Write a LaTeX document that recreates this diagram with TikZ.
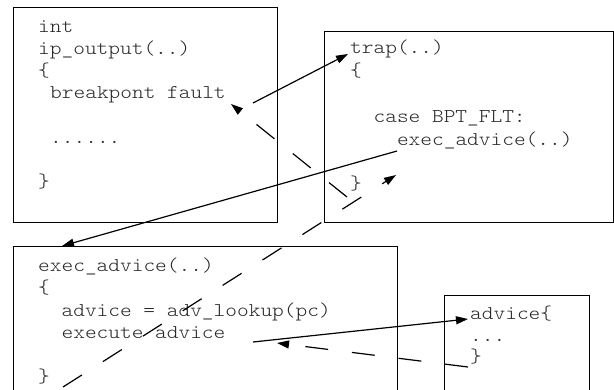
\documentclass[tikz,border=0pt]{standalone}
\usepackage{fontspec}
\newfontfamily\codefont[Extension=.otf,FakeStretch=1.143]{lmmonolt10-regular}
\usetikzlibrary{arrows.meta}
\tikzset{
  codebox/.style={draw=black, line width=1.3pt, rectangle, anchor=north west, inner sep=0pt},
  code/.style={anchor=base west, inner sep=0pt, text=black!85, font=\codefont\fontsize{19.5}{22}\selectfont},
  solidarrow/.style={draw=black, line width=1.2pt, -{Triangle[length=12pt,width=8pt]}},
  dashedarrow/.style={solidarrow, dash pattern=on 23pt off 24pt},
}
\begin{document}
\begin{tikzpicture}[x=1pt,y=-1pt]
\useasboundingbox (0,0) rectangle (614,389);
% boxes
\node[codebox, minimum width=264pt, minimum height=215pt] (b1) at (13,7) {};
\node[codebox, minimum width=289pt, minimum height=191pt] (b2) at (324,31) {};
\node[codebox, minimum width=384pt, minimum height=160pt] (b3) at (13,246) {};
\node[codebox, minimum width=145pt, minimum height=110pt] (b4) at (444,295) {};
% box 1 text
\node[code] (t11) at (38,32) {int};
\node[code] (t12) at (38,54) {ip\_output(..)};
\node[code] (t13) at (38,76) {\{};
\node[code] (t14) at (50,98) {breakpont fault};
\node[code] (t15) at (50,143) {......};
\node[code] (t16) at (38,187) {\}};
% box 2 text
\node[code] (t21) at (350,53) {trap(..)};
\node[code] (t22) at (350,76) {\{};
\node[code] (t23) at (373.4,122) {case BPT\_FLT:};
\node[code] (t24) at (396.8,145) {exec\_advice(..)};
\node[code] (t25) at (350,189) {\}};
% box 3 text
\node[code] (t31) at (38,271) {exec\_advice(..)};
\node[code] (t32) at (38,293.5) {\{};
\node[code] (t33) at (61.4,316) {advice = adv\_lookup(pc)};
\node[code] (t34) at (61.4,338) {execute advice};
\node[code] (t35) at (38,382) {\}};
% box 4 text
\node[code] (t41) at (470,319) {advice\{};
\node[code] (t42) at (470,341) {...};
\node[code] (t43) at (470,362) {\}};
% connector end points
\coordinate (a1s) at (253,103);
\coordinate (a1e) at (348,54);
\coordinate (a2s) at (347,197);
\coordinate (a2e) at (231,104);
\coordinate (a3s) at (397,151);
\coordinate (a3e) at (62,246);
\coordinate (a4s) at (63,387);
\coordinate (a4e) at (396,175);
\coordinate (a5s) at (253,342);
\coordinate (a5e) at (468,319);
\coordinate (a6s) at (468,367);
\coordinate (a6e) at (277,343);
% connectors
\draw[solidarrow] (a1s) -- (a1e);
\draw[dashedarrow, dash pattern=on 23pt off 23.5pt] (a2s) -- (a2e);
\draw[solidarrow] (a3s) -- (a3e);
\draw[dashedarrow, dash pattern=on 22.5pt off 24.8pt] (a4s) -- (a4e);
\draw[solidarrow] (a5s) -- (a5e);
\draw[dashedarrow] (a6s) -- (a6e);
\end{tikzpicture}
\end{document}
